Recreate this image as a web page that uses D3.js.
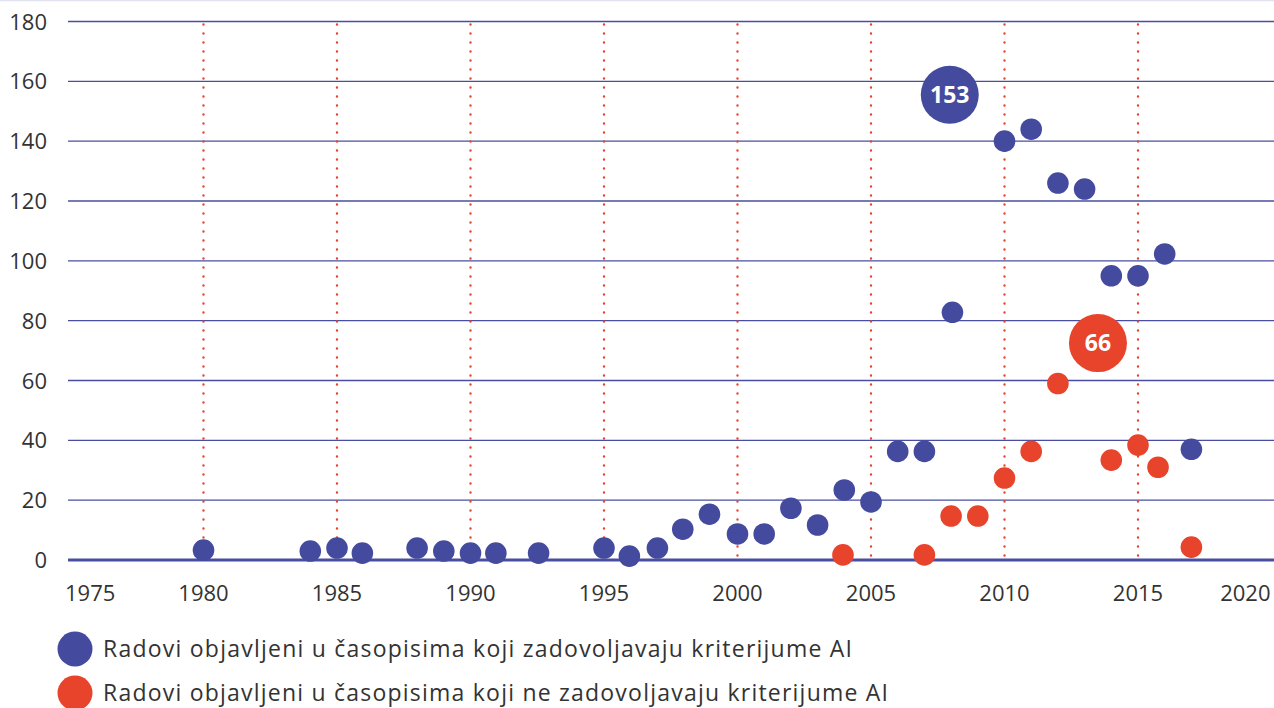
<!DOCTYPE html>
<html>
<head>
<meta charset="utf-8">
<script src="https://cdn.jsdelivr.net/npm/d3@7"></script>
<style>
  body { margin: 0; background: #fff; }
  svg { display: block; font-family: "Open Sans", Lato, sans-serif; }
</style>
</head>
<body>
<svg id="chart" width="1274" height="708"></svg>
<script>
// values
const blueYears = [1980, 1984, 1985, 1985.95, 1988, 1989, 1990, 1990.95, 1992.55, 1995, 1995.95, 1997, 1997.95, 1998.95, 2000, 2001, 2002, 2003, 2004, 2005, 2006, 2007, 2008.05, 2010, 2011, 2012, 2013, 2014, 2015, 2016, 2017];
const blueValues = [3.3, 3, 4, 2.3, 4, 3, 2.3, 2.3, 2.3, 4, 1.3, 4, 10.3, 15.3, 8.7, 8.7, 17.3, 11.7, 23.4, 19.4, 36.3, 36.3, 82.8, 140, 144, 126, 124, 95, 95, 102.3, 37];
const redYears = [2003.95, 2007, 2008, 2009, 2010, 2011, 2012, 2014, 2015, 2015.75, 2017];
const redValues = [1.7, 1.7, 14.7, 14.7, 27.4, 36.3, 59, 33.4, 38.4, 31, 4.3];
const callouts = [
  { label: "153", year: 2007.95, value: 155.5, color: "#444a9e" },
  { label: "66", year: 2013.5, value: 72.5, color: "#e8432b" }
];
const xTicks = [1975, 1980, 1985, 1990, 1995, 2000, 2005, 2010, 2015, 2020];
const dottedYears = [1980, 1985, 1990, 1995, 2000, 2005, 2010, 2015];
const yTicks = [0, 20, 40, 60, 80, 100, 120, 140, 160, 180];
const legendItems = [
  { text: "Radovi objavljeni u časopisima koji zadovoljavaju kriterijume AI", color: "#444a9e" },
  { text: "Radovi objavljeni u časopisima koji ne zadovoljavaju kriterijume AI", color: "#e8432b" }
];

const svg = d3.select("#chart");
const x = d3.scaleLinear().domain([1975, 2020]).range([70, 1271.5]);
const y = d3.scaleLinear().domain([0, 180]).range([560, 21.5]);

// faint top border
svg.append("line").attr("x1", 0).attr("x2", 1274).attr("y1", 0.5).attr("y2", 0.5)
  .attr("stroke", "#e2e2f0").attr("stroke-width", 1.5);

// horizontal grid
svg.append("g").selectAll("line").data(yTicks).join("line")
  .attr("x1", 68).attr("x2", 1274)
  .attr("y1", d => y(d)).attr("y2", d => y(d))
  .attr("stroke", "#4a4ea2")
  .attr("stroke-width", d => d === 0 ? 3 : 1.4);

// dotted verticals
svg.append("g").selectAll("line").data(dottedYears).join("line")
  .attr("x1", d => x(d)).attr("x2", d => x(d))
  .attr("y1", y(180) + 3).attr("y2", y(0))
  .attr("stroke", "#e8432b").attr("stroke-width", 2.4)
  .attr("stroke-linecap", "round").attr("stroke-dasharray", "0 9");

// y labels
svg.append("g").selectAll("text").data(yTicks).join("text")
  .attr("x", 47).attr("y", d => y(d) + 8)
  .attr("text-anchor", "end").attr("font-size", 22).attr("fill", "#333")
  .text(d => d);

// x labels
svg.append("g").selectAll("text").data(xTicks).join("text")
  .attr("x", d => d === 1975 ? x(d) - 5 : d === 2020 ? x(d) - 1 : x(d))
  .attr("y", 601)
  .attr("text-anchor", d => d === 1975 ? "start" : d === 2020 ? "end" : "middle")
  .attr("font-size", 22).attr("fill", "#333")
  .text(d => d);

// points
const blue = blueYears.map((yr, i) => ({ yr, v: blueValues[i] }));
const red = redYears.map((yr, i) => ({ yr, v: redValues[i] }));
svg.append("g").selectAll("circle").data(blue).join("circle")
  .attr("cx", d => x(d.yr)).attr("cy", d => y(d.v)).attr("r", 10.8)
  .attr("fill", "#444a9e");
svg.append("g").selectAll("circle").data(red).join("circle")
  .attr("cx", d => x(d.yr)).attr("cy", d => y(d.v)).attr("r", 10.8)
  .attr("fill", "#e8432b");

// callout bubbles
const cg = svg.append("g").selectAll("g").data(callouts).join("g")
  .attr("transform", d => `translate(${x(d.year)},${y(d.value)})`);
cg.append("circle").attr("r", 29).attr("fill", d => d.color);
cg.append("text").attr("text-anchor", "middle").attr("y", 8)
  .attr("font-size", 23).attr("font-weight", 700).attr("fill", "#fff")
  .text(d => d.label);

// legend
const lg = svg.append("g").selectAll("g").data(legendItems).join("g")
  .attr("transform", (d, i) => `translate(75,${649 + i * 44})`);
lg.append("circle").attr("r", 17.5).attr("fill", d => d.color);
lg.append("text").attr("x", 28).attr("y", 8)
  .attr("font-size", 23).attr("fill", "#333")
  .attr("textLength", (d, i) => i === 0 ? 749 : 785)
  .text(d => d.text);
</script>
</body>
</html>
